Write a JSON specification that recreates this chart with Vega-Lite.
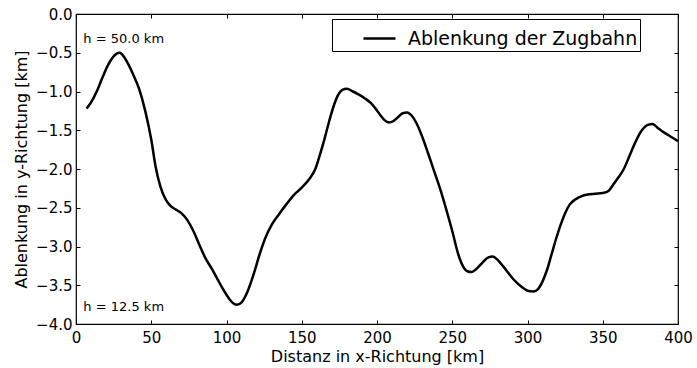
{
  "$schema": "https://vega.github.io/schema/vega-lite/v6.json",
  "width": 602,
  "height": 310,
  "autosize": {"type": "none"},
  "padding": {"left": 76, "top": 14, "right": 19, "bottom": 44},
  "background": "white",
  "config": {
    "font": "DejaVu Sans",
    "view": {"stroke": "black", "strokeWidth": 1.2},
    "axis": {
      "domain": false, "grid": false, "tickColor": "black", "tickWidth": 1,
      "labelColor": "black", "titleColor": "black", "titleFontWeight": "normal",
      "labelFontSize": 15, "titleFontSize": 16, "tickSize": -4,
      "labelFlush": false, "labelOverlap": false
    }
  },
  "data": {"values": [
    {"x": 7, "y": -1.22, "series": "Ablenkung der Zugbahn"},
    {"x": 10, "y": -1.14, "series": "Ablenkung der Zugbahn"},
    {"x": 14, "y": -0.99, "series": "Ablenkung der Zugbahn"},
    {"x": 18, "y": -0.8, "series": "Ablenkung der Zugbahn"},
    {"x": 21, "y": -0.67, "series": "Ablenkung der Zugbahn"},
    {"x": 24, "y": -0.57, "series": "Ablenkung der Zugbahn"},
    {"x": 27, "y": -0.51, "series": "Ablenkung der Zugbahn"},
    {"x": 29, "y": -0.5, "series": "Ablenkung der Zugbahn"},
    {"x": 31, "y": -0.53, "series": "Ablenkung der Zugbahn"},
    {"x": 34, "y": -0.62, "series": "Ablenkung der Zugbahn"},
    {"x": 38, "y": -0.78, "series": "Ablenkung der Zugbahn"},
    {"x": 42, "y": -0.97, "series": "Ablenkung der Zugbahn"},
    {"x": 46, "y": -1.25, "series": "Ablenkung der Zugbahn"},
    {"x": 50, "y": -1.62, "series": "Ablenkung der Zugbahn"},
    {"x": 53, "y": -1.98, "series": "Ablenkung der Zugbahn"},
    {"x": 56, "y": -2.22, "series": "Ablenkung der Zugbahn"},
    {"x": 59, "y": -2.37, "series": "Ablenkung der Zugbahn"},
    {"x": 62, "y": -2.46, "series": "Ablenkung der Zugbahn"},
    {"x": 66, "y": -2.52, "series": "Ablenkung der Zugbahn"},
    {"x": 70, "y": -2.57, "series": "Ablenkung der Zugbahn"},
    {"x": 74, "y": -2.66, "series": "Ablenkung der Zugbahn"},
    {"x": 78, "y": -2.8, "series": "Ablenkung der Zugbahn"},
    {"x": 82, "y": -2.98, "series": "Ablenkung der Zugbahn"},
    {"x": 86, "y": -3.15, "series": "Ablenkung der Zugbahn"},
    {"x": 90, "y": -3.28, "series": "Ablenkung der Zugbahn"},
    {"x": 94, "y": -3.42, "series": "Ablenkung der Zugbahn"},
    {"x": 98, "y": -3.56, "series": "Ablenkung der Zugbahn"},
    {"x": 102, "y": -3.68, "series": "Ablenkung der Zugbahn"},
    {"x": 105, "y": -3.74, "series": "Ablenkung der Zugbahn"},
    {"x": 107, "y": -3.75, "series": "Ablenkung der Zugbahn"},
    {"x": 110, "y": -3.72, "series": "Ablenkung der Zugbahn"},
    {"x": 114, "y": -3.58, "series": "Ablenkung der Zugbahn"},
    {"x": 118, "y": -3.36, "series": "Ablenkung der Zugbahn"},
    {"x": 122, "y": -3.1, "series": "Ablenkung der Zugbahn"},
    {"x": 126, "y": -2.88, "series": "Ablenkung der Zugbahn"},
    {"x": 130, "y": -2.72, "series": "Ablenkung der Zugbahn"},
    {"x": 135, "y": -2.58, "series": "Ablenkung der Zugbahn"},
    {"x": 140, "y": -2.45, "series": "Ablenkung der Zugbahn"},
    {"x": 145, "y": -2.33, "series": "Ablenkung der Zugbahn"},
    {"x": 150, "y": -2.24, "series": "Ablenkung der Zugbahn"},
    {"x": 155, "y": -2.13, "series": "Ablenkung der Zugbahn"},
    {"x": 159, "y": -2.0, "series": "Ablenkung der Zugbahn"},
    {"x": 162, "y": -1.82, "series": "Ablenkung der Zugbahn"},
    {"x": 165, "y": -1.62, "series": "Ablenkung der Zugbahn"},
    {"x": 168, "y": -1.4, "series": "Ablenkung der Zugbahn"},
    {"x": 171, "y": -1.2, "series": "Ablenkung der Zugbahn"},
    {"x": 174, "y": -1.05, "series": "Ablenkung der Zugbahn"},
    {"x": 177, "y": -0.98, "series": "Ablenkung der Zugbahn"},
    {"x": 180, "y": -0.965, "series": "Ablenkung der Zugbahn"},
    {"x": 184, "y": -1.0, "series": "Ablenkung der Zugbahn"},
    {"x": 188, "y": -1.04, "series": "Ablenkung der Zugbahn"},
    {"x": 192, "y": -1.09, "series": "Ablenkung der Zugbahn"},
    {"x": 196, "y": -1.15, "series": "Ablenkung der Zugbahn"},
    {"x": 199, "y": -1.22, "series": "Ablenkung der Zugbahn"},
    {"x": 202, "y": -1.3, "series": "Ablenkung der Zugbahn"},
    {"x": 205, "y": -1.37, "series": "Ablenkung der Zugbahn"},
    {"x": 208, "y": -1.4, "series": "Ablenkung der Zugbahn"},
    {"x": 211, "y": -1.38, "series": "Ablenkung der Zugbahn"},
    {"x": 214, "y": -1.33, "series": "Ablenkung der Zugbahn"},
    {"x": 217, "y": -1.28, "series": "Ablenkung der Zugbahn"},
    {"x": 220, "y": -1.27, "series": "Ablenkung der Zugbahn"},
    {"x": 223, "y": -1.31, "series": "Ablenkung der Zugbahn"},
    {"x": 226, "y": -1.4, "series": "Ablenkung der Zugbahn"},
    {"x": 230, "y": -1.58, "series": "Ablenkung der Zugbahn"},
    {"x": 234, "y": -1.8, "series": "Ablenkung der Zugbahn"},
    {"x": 238, "y": -2.03, "series": "Ablenkung der Zugbahn"},
    {"x": 242, "y": -2.26, "series": "Ablenkung der Zugbahn"},
    {"x": 246, "y": -2.52, "series": "Ablenkung der Zugbahn"},
    {"x": 250, "y": -2.8, "series": "Ablenkung der Zugbahn"},
    {"x": 254, "y": -3.1, "series": "Ablenkung der Zugbahn"},
    {"x": 257, "y": -3.25, "series": "Ablenkung der Zugbahn"},
    {"x": 260, "y": -3.32, "series": "Ablenkung der Zugbahn"},
    {"x": 263, "y": -3.33, "series": "Ablenkung der Zugbahn"},
    {"x": 266, "y": -3.29, "series": "Ablenkung der Zugbahn"},
    {"x": 270, "y": -3.21, "series": "Ablenkung der Zugbahn"},
    {"x": 274, "y": -3.14, "series": "Ablenkung der Zugbahn"},
    {"x": 277, "y": -3.13, "series": "Ablenkung der Zugbahn"},
    {"x": 280, "y": -3.17, "series": "Ablenkung der Zugbahn"},
    {"x": 284, "y": -3.26, "series": "Ablenkung der Zugbahn"},
    {"x": 288, "y": -3.36, "series": "Ablenkung der Zugbahn"},
    {"x": 292, "y": -3.45, "series": "Ablenkung der Zugbahn"},
    {"x": 296, "y": -3.52, "series": "Ablenkung der Zugbahn"},
    {"x": 300, "y": -3.57, "series": "Ablenkung der Zugbahn"},
    {"x": 304, "y": -3.58, "series": "Ablenkung der Zugbahn"},
    {"x": 307, "y": -3.55, "series": "Ablenkung der Zugbahn"},
    {"x": 310, "y": -3.45, "series": "Ablenkung der Zugbahn"},
    {"x": 313, "y": -3.3, "series": "Ablenkung der Zugbahn"},
    {"x": 316, "y": -3.1, "series": "Ablenkung der Zugbahn"},
    {"x": 319, "y": -2.9, "series": "Ablenkung der Zugbahn"},
    {"x": 322, "y": -2.72, "series": "Ablenkung der Zugbahn"},
    {"x": 325, "y": -2.57, "series": "Ablenkung der Zugbahn"},
    {"x": 328, "y": -2.46, "series": "Ablenkung der Zugbahn"},
    {"x": 332, "y": -2.39, "series": "Ablenkung der Zugbahn"},
    {"x": 336, "y": -2.35, "series": "Ablenkung der Zugbahn"},
    {"x": 340, "y": -2.33, "series": "Ablenkung der Zugbahn"},
    {"x": 345, "y": -2.32, "series": "Ablenkung der Zugbahn"},
    {"x": 350, "y": -2.31, "series": "Ablenkung der Zugbahn"},
    {"x": 354, "y": -2.28, "series": "Ablenkung der Zugbahn"},
    {"x": 357, "y": -2.2, "series": "Ablenkung der Zugbahn"},
    {"x": 360, "y": -2.12, "series": "Ablenkung der Zugbahn"},
    {"x": 364, "y": -2.0, "series": "Ablenkung der Zugbahn"},
    {"x": 368, "y": -1.82, "series": "Ablenkung der Zugbahn"},
    {"x": 372, "y": -1.64, "series": "Ablenkung der Zugbahn"},
    {"x": 376, "y": -1.5, "series": "Ablenkung der Zugbahn"},
    {"x": 380, "y": -1.43, "series": "Ablenkung der Zugbahn"},
    {"x": 383, "y": -1.42, "series": "Ablenkung der Zugbahn"},
    {"x": 386, "y": -1.46, "series": "Ablenkung der Zugbahn"},
    {"x": 390, "y": -1.52, "series": "Ablenkung der Zugbahn"},
    {"x": 395, "y": -1.58, "series": "Ablenkung der Zugbahn"},
    {"x": 400, "y": -1.64, "series": "Ablenkung der Zugbahn"}
  ]},
  "layer": [
    {
      "mark": {"type": "line", "interpolate": "monotone", "strokeWidth": 2.5, "clip": true},
      "encoding": {
        "x": {"field": "x", "type": "quantitative",
          "scale": {"domain": [0, 400], "nice": false, "zero": false},
          "axis": {"orient": "bottom", "values": [0, 50, 100, 150, 200, 250, 300, 350, 400], "format": "d",
            "title": "Distanz in x-Richtung [km]", "labelPadding": 10, "titlePadding": 3}},
        "y": {"field": "y", "type": "quantitative",
          "scale": {"domain": [-4, 0], "nice": false, "zero": false},
          "axis": {"orient": "left", "values": [-4, -3.5, -3, -2.5, -2, -1.5, -1, -0.5, 0], "format": ".1f",
            "title": "Ablenkung in y-Richtung [km]", "labelPadding": 8, "titlePadding": 6}},
        "color": {"field": "series", "type": "nominal", "scale": {"range": ["black"]},
          "legend": {"orient": "none", "legendX": 256, "legendY": 5, "title": null,
            "strokeColor": "black", "fillColor": "white", "padding": 2,
            "symbolType": "stroke", "symbolSize": 1024, "symbolStrokeWidth": 2.5,
            "symbolOffset": 28, "labelOffset": 11, "labelFontSize": 19, "labelColor": "black", "labelLimit": 400}}
      }
    },
    {
      "data": {"values": [
        {"x": 4.9, "y": -0.38, "label": "h = 50.0 km"},
        {"x": 4.9, "y": -3.83, "label": "h = 12.5 km"}
      ]},
      "mark": {"type": "text", "align": "left", "baseline": "alphabetic", "fontSize": 13, "color": "black"},
      "encoding": {
        "x": {"field": "x", "type": "quantitative",
          "axis": {"orient": "top", "values": [0, 50, 100, 150, 200, 250, 300, 350, 400], "labels": false, "title": null}},
        "y": {"field": "y", "type": "quantitative",
          "axis": {"orient": "right", "values": [-4, -3.5, -3, -2.5, -2, -1.5, -1, -0.5, 0], "labels": false, "title": null}},
        "text": {"field": "label"}
      }
    }
  ],
  "resolve": {"axis": {"x": "independent", "y": "independent"}}
}
